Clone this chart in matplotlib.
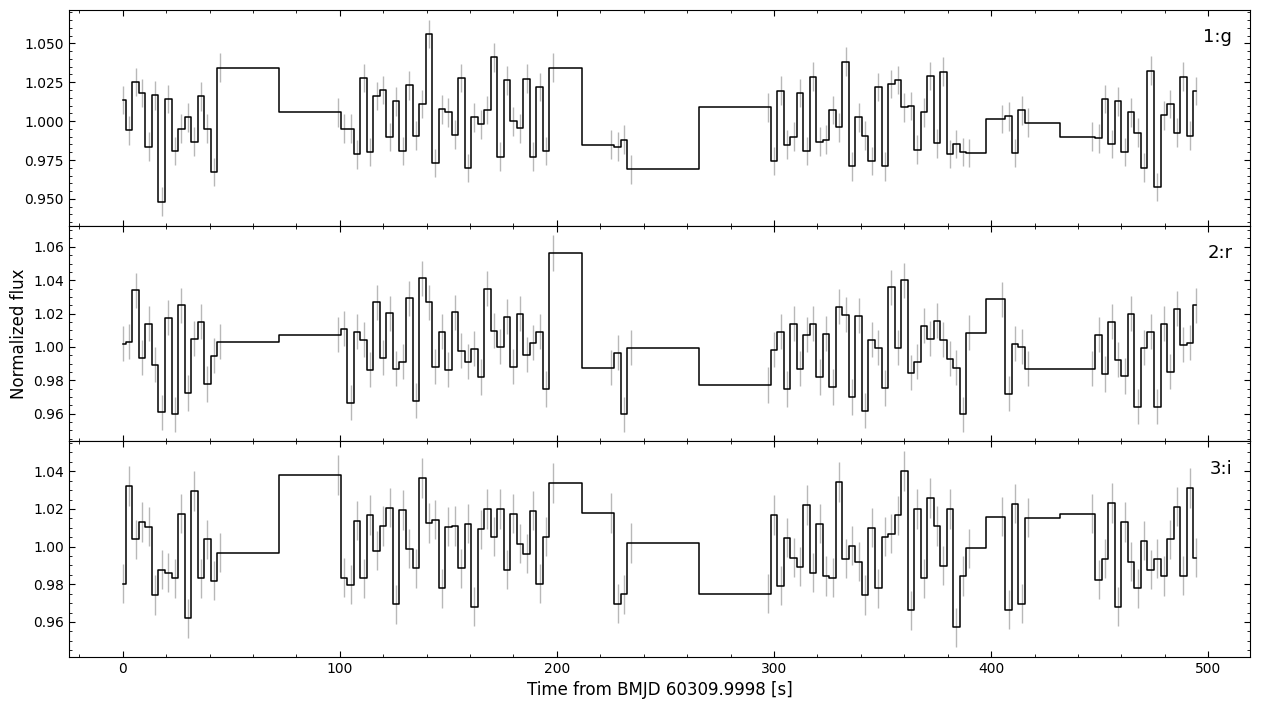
import numpy as np
from matplotlib import pyplot as plt
from matplotlib.ticker import AutoMinorLocator, MultipleLocator

# time of each exposure [s]
TIME = [0, 3, 6, 9, 12, 15, 18, 21, 24, 27, 30, 33, 36, 39, 42, 45,
        99, 102, 105, 108, 111, 114, 117, 120, 123, 126, 129, 132, 135, 138, 141, 144, 147,
        150, 153, 156, 159, 162, 165, 168, 171, 174, 177, 180, 183, 186, 189, 192, 195, 198,
        225, 228, 231, 234,
        297, 300, 303, 306, 309, 312, 315, 318, 321, 324, 327, 330, 333, 336, 339, 342,
        345, 348, 351, 354, 357, 360, 363, 366, 369, 372, 375, 378, 381, 384, 387, 390,
        405, 408, 411, 414, 417,
        446.5, 449.5, 452.5, 455.5, 458.5, 461.5, 464.5, 467.5, 470.5, 473.5, 476.5,
        479.5, 482.5, 485.5, 488.5, 491.5, 494.5]

FLUX_G = [1.0135, 0.9941, 1.0252, 1.0180, 0.9835, 1.0165, 0.9483, 1.0141, 0.9809, 0.9952,
          1.0024, 0.9867, 1.0159, 0.9952, 0.9672, 1.0343,
          1.0057, 0.9952, 0.9952, 0.9787, 1.0278, 0.9802, 1.0161, 1.0200, 0.9898, 1.0128,
          0.9809, 1.0230, 0.9907, 1.0109, 1.0559, 0.9730, 1.0076, 1.0057, 0.9913, 1.0278,
          0.9698, 1.0024, 0.9980, 1.0072, 1.0409, 0.9772, 1.0261, 0.9998, 0.9954, 1.0272,
          0.9772, 1.0220, 0.9809, 1.0343,
          0.9848, 0.9835, 0.9880, 0.9691,
          1.0089, 0.9743, 1.0196, 0.9848, 0.9900, 1.0180, 0.9809, 1.0285, 0.9867, 0.9880,
          1.0072, 0.9959, 1.0383, 0.9709, 1.0024, 0.9907, 0.9743, 1.0220, 0.9709, 1.0239,
          1.0265, 1.0089, 1.0096, 0.9817, 1.0057, 1.0291, 0.9857, 1.0317, 0.9789, 0.9854,
          0.9802, 0.9796,
          1.0013, 1.0030, 0.9796, 1.0070, 0.9991,
          0.9900, 0.9889, 1.0141, 0.9854, 1.0128, 0.9802, 1.0057, 0.9926, 0.9700, 1.0324,
          0.9576, 1.0037, 1.0109, 0.9926, 1.0285, 0.9907, 1.0193]

FLUX_R = [1.0018, 1.0030, 1.0340, 0.9934, 1.0138, 0.9892, 0.9610, 1.0174, 0.9598, 1.0251,
          0.9724, 1.0048, 1.0150, 0.9778, 0.9946, 1.0030,
          1.0074, 1.0108, 0.9665, 1.0090, 1.0042, 0.9862, 1.0269, 0.9934, 1.0203, 0.9868,
          0.9910, 1.0293, 0.9677, 1.0413, 1.0269, 0.9880, 1.0090, 0.9862, 1.0209, 0.9976,
          0.9910, 0.9988, 0.9820, 1.0348, 1.0096, 1.0000, 1.0180, 0.9880, 1.0198, 0.9952,
          1.0024, 1.0090, 0.9748, 1.0563,
          0.9874, 0.9964, 0.9598, 0.9994,
          0.9772, 0.9982, 1.0090, 0.9748, 1.0138, 0.9868, 1.0072, 1.0138, 0.9820, 1.0078,
          0.9760, 1.0240, 1.0192, 0.9700, 1.0186, 0.9618, 1.0042, 0.9994, 0.9754, 1.0359,
          0.9994, 1.0401, 0.9844, 0.9910, 1.0126, 1.0048, 1.0156, 1.0042, 0.9928, 0.9874,
          0.9598, 1.0084,
          1.0287, 0.9719, 1.0018, 1.0000, 0.9868,
          0.9868, 1.0072, 0.9838, 1.0150, 0.9922, 0.9826, 1.0198, 0.9641, 0.9994, 1.0090,
          0.9641, 1.0138, 0.9850, 1.0228, 1.0012, 1.0024, 1.0251]

FLUX_I = [0.9804, 1.0321, 1.0039, 1.0132, 1.0106, 0.9742, 0.9878, 0.9862, 0.9831, 1.0175,
          0.9619, 1.0295, 0.9831, 1.0039, 0.9820, 0.9968,
          1.0381, 0.9836, 0.9799, 1.0138, 0.9831, 1.0169, 0.9979, 1.0111, 1.0207, 0.9693,
          1.0196, 0.9989, 0.9884, 1.0365, 1.0125, 1.0143, 0.9778, 1.0106, 1.0111, 0.9884,
          1.0122, 0.9682, 1.0092, 1.0201, 1.0053, 1.0201, 0.9878, 1.0175, 1.0016, 0.9963,
          1.0191, 0.9804, 1.0053, 1.0339,
          1.0180, 0.9698, 0.9746, 1.0019,
          0.9751, 1.0169, 0.9793, 1.0048, 0.9942, 0.9894, 1.0222, 0.9862, 1.0122, 0.9845,
          0.9836, 1.0344, 0.9936, 1.0005, 0.9921, 0.9742, 1.0101, 0.9778, 1.0053, 1.0069,
          1.0166, 1.0402, 0.9661, 1.0201, 0.9831, 1.0259, 1.0111, 0.9899, 1.0201, 0.9571,
          0.9843, 0.9991,
          1.0159, 0.9666, 1.0228, 0.9698, 1.0154,
          1.0175, 0.9825, 0.9936, 1.0233, 0.9682, 1.0132, 0.9921, 0.9778, 1.0032, 0.9878,
          0.9936, 0.9843, 1.0039, 1.0212, 0.9846, 1.0312, 0.9942]

# typical 1-sigma uncertainty per band
ERR = [0.0092, 0.0105, 0.0105]
BANDS = ["1:g", "2:r", "3:i"]


def main():
    fig, axes = plt.subplots(3, 1, sharex=True, figsize=(12.61, 7.09), dpi=100)
    fig.subplots_adjust(left=0.0547, right=0.9913, top=0.9859, bottom=0.0733, hspace=0)

    t = np.array(TIME)
    for ax, flux, err, band in zip(axes, [FLUX_G, FLUX_R, FLUX_I], ERR, BANDS):
        flux = np.array(flux)
        ax.errorbar(t, flux, yerr=err, fmt='none', ecolor='0.72', elinewidth=1.0, zorder=1)
        ax.plot(t, flux, drawstyle='steps-mid', color='k', lw=1.1, zorder=2)
        ax.text(0.985, 0.915, band, transform=ax.transAxes, ha='right', va='top', fontsize=13)

        ax.xaxis.set_minor_locator(AutoMinorLocator())
        ax.yaxis.set_minor_locator(AutoMinorLocator())
        ax.tick_params(which='both', direction='in', top=True, right=True)
        ax.tick_params(which='major', length=4)
        ax.tick_params(which='minor', length=2)

    # g band uses coarser ticks
    axes[0].yaxis.set_major_locator(MultipleLocator(0.025))
    axes[0].yaxis.set_minor_locator(AutoMinorLocator(5))

    axes[1].set_ylabel("Normalized flux", fontsize=12)
    axes[2].set_xlabel("Time from BMJD 60309.9998 [s]", fontsize=12)

    plt.savefig("out.png")
    plt.close()


if __name__ == "__main__":
    main()
